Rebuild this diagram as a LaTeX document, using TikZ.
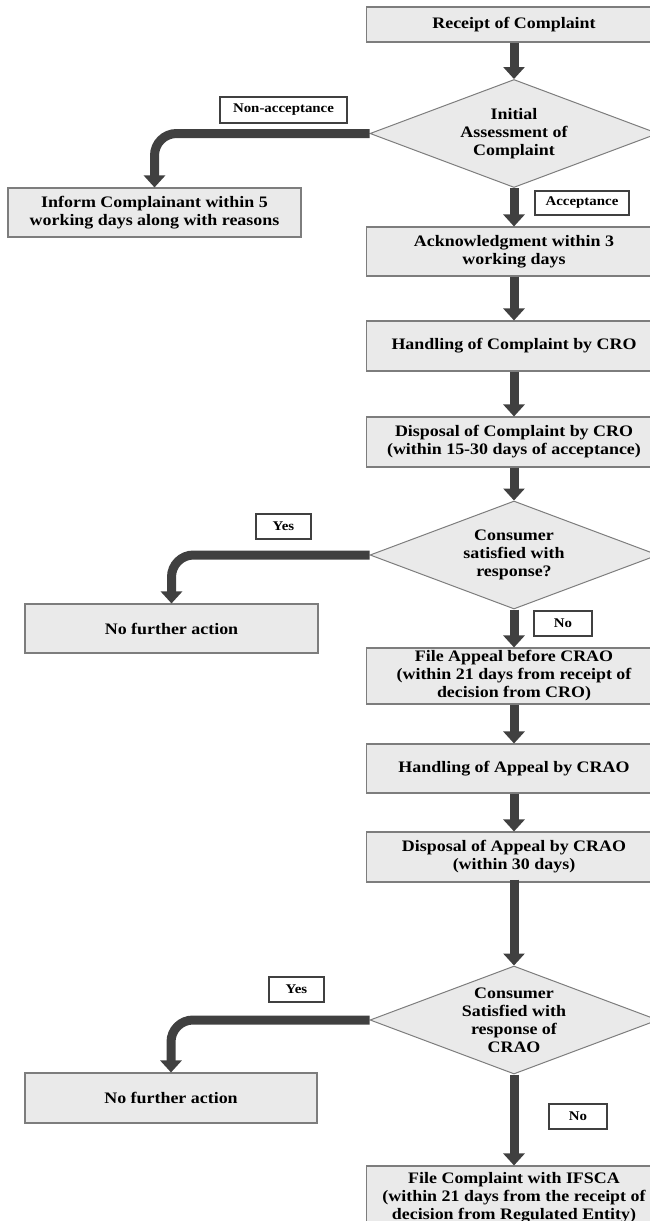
\documentclass[tikz,border=0pt]{standalone}
\usepackage{fontspec}
\setmainfont{Liberation Serif}[FakeStretch=1.12]
\usepackage{tikz}
\usetikzlibrary{shapes.geometric,arrows.meta}
\definecolor{FlowBoxFill}{RGB}{234,234,234}
\definecolor{FlowBoxLine}{RGB}{125,125,125}
\definecolor{FlowArrowColor}{RGB}{64,64,64}

\begin{document}
\begin{tikzpicture}[x=1pt,y=-1pt,
  box/.style n args={2}{rectangle,draw=FlowBoxLine,fill=FlowBoxFill,line width=1.1pt,minimum width=#1pt,minimum height=#2pt,inner sep=0pt,align=center,font=\bfseries\fontsize{16}{18}\selectfont},
  decision/.style={diamond,draw=FlowBoxLine,fill=FlowBoxFill,line width=1pt,minimum width=288pt,minimum height=108pt,aspect=2.67,inner sep=0pt,align=center,font=\bfseries\fontsize{16}{18}\selectfont},
  lbl/.style n args={2}{rectangle,draw=FlowArrowColor,fill=white,line width=1.2pt,minimum width=#1pt,minimum height=#2pt,inner sep=0pt,font=\bfseries\fontsize{13.3}{15}\selectfont},
  flow/.style={draw=FlowArrowColor,line width=9pt,-{Triangle[length=12pt,width=21pt]}}]
\useasboundingbox (0,0) rectangle (650,1221);
\clip (0,0) rectangle (650,1221);
% main column
\node[box={295}{35}] (recv) at (514,24.5) {Receipt of Complaint};
\node[decision] (assess) at (514,133.5) {Initial\\Assessment of\\Complaint};
\node[box={293}{49}] (inform) at (154.5,212.5) {Inform Complainant within 5\\working days along with reasons};
\node[box={295}{49}] (ack) at (514,251.5) {Acknowledgment within 3\\working days};
\node[box={295}{50}] (handle) at (514,346) {Handling of Complaint by CRO};
\node[box={295}{50}] (dispose) at (514,442) {Disposal of Complaint by CRO\\(within 15-30 days of acceptance)};
\node[decision] (sat) at (514,555) {Consumer\\satisfied with\\response?};
\node[box={293}{49}] (nfa1) at (171.5,628.5) {No further action};
\node[box={295}{56}] (appeal) at (514,676) {File Appeal before CRAO\\(within 21 days from receipt of\\decision from CRO)};
\node[box={295}{49}] (handleap) at (514,768.5) {Handling of Appeal by CRAO};
\node[box={295}{50}] (disposeap) at (514,857) {Disposal of Appeal by CRAO\\(within 30 days)};
\node[decision] (satcrao) at (514,1020) {Consumer\\Satisfied with\\response of\\CRAO};
\node[box={292}{50}] (nfa2) at (171,1098) {No further action};
\node[box={295}{64}] (ifsca) at (514,1198) {File Complaint with IFSCA\\(within 21 days from the receipt of\\decision from Regulated Entity)};
% labels
\node[lbl={127}{26}] (lblnon) at (283.5,110) {Non-acceptance};
\node[lbl={94}{24}] (lblacc) at (582,203) {Acceptance};
\node[lbl={55}{25}] (lblyesa) at (283.5,526.5) {Yes};
\node[lbl={58}{25}] (lblnoa) at (563,623.5) {No};
\node[lbl={55}{25}] (lblyesb) at (296.5,989.5) {Yes};
\node[lbl={58}{25}] (lblnob) at (578,1116.5) {No};
% arrows
\draw[flow] (recv.south) -- (assess.north);
\draw[flow,rounded corners=22pt] (assess.west) -| (inform.north);
\draw[flow] (assess.south) -- (ack.north);
\draw[flow] (ack.south) -- (handle.north);
\draw[flow] (handle.south) -- (dispose.north);
\draw[flow] (dispose.south) -- (sat.north);
\draw[flow,rounded corners=22pt] (sat.west) -| (nfa1.north);
\draw[flow] (sat.south) -- (appeal.north);
\draw[flow] (appeal.south) -- (handleap.north);
\draw[flow] (handleap.south) -- (disposeap.north);
\draw[flow] ([yshift=3pt]disposeap.south) -- (satcrao.north);
\draw[flow,rounded corners=22pt] (satcrao.west) -| (nfa2.north);
\draw[flow] (satcrao.south) -- (ifsca.north);
\end{tikzpicture}
\end{document}
